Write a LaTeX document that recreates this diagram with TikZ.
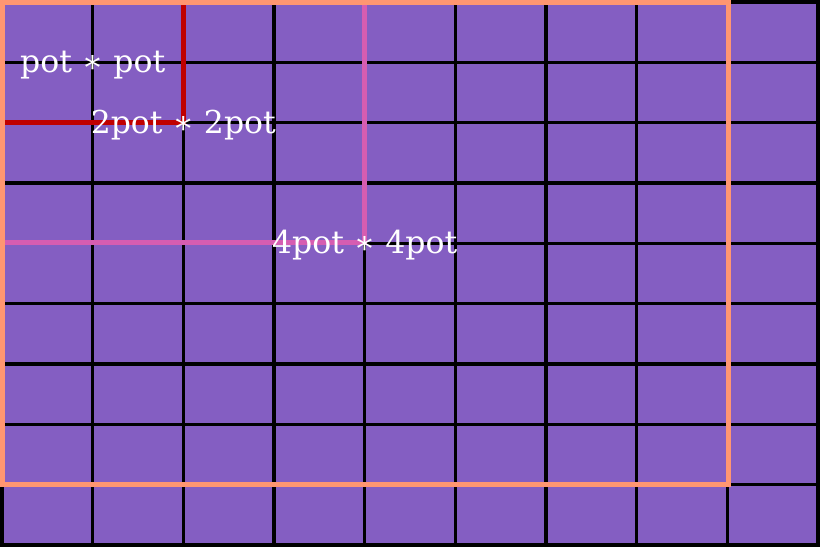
\documentclass[tikz,border=0pt]{standalone}
\usepackage{fontspec}
\setmainfont{DejaVu Serif}
\usetikzlibrary{positioning}

\definecolor{cellpurple}{HTML}{845EC2}
\definecolor{framepeach}{HTML}{FF9671}
\definecolor{potred}{HTML}{C00000}
\definecolor{potpink}{HTML}{D65DB1}

\tikzset{
  gridline/.style={black, line width=3.2pt},
  potlabel/.style={white, font=\fontsize{31.5}{38}\selectfont, inner sep=0pt, anchor=base},
}

\begin{document}
\begin{tikzpicture}[x=1pt, y=-1pt, line cap=rect, line join=miter]
\useasboundingbox (0,0) rectangle (820,547);

\fill[cellpurple] (2,2) rectangle (818,545);
\foreach \i in {0,...,9}{
  \draw[gridline] ({2+\i*90.67},2) -- ({2+\i*90.67},545);
  \draw[gridline] (2,{2+\i*60.33}) -- (818,{2+\i*60.33});
}

% squares of side pot, 2pot, 4pot
\draw[potred, line width=4.5pt] (2,122.7) -- (183.3,122.7) -- (183.3,2);
\draw[potpink, line width=4.5pt] (2,242.7) -- (364.7,242.7) -- (364.7,2);
\draw[framepeach, line width=5pt] (2.5,2.5) rectangle (728.5,484.5);

\node[potlabel] (pot) at (92.7,72.5) {pot ∗ pot};
\node[potlabel] (twopot) at (183.3,133) {2pot ∗ 2pot};
\node[potlabel] (fourpot) at (364.7,253) {4pot ∗ 4pot};

\end{tikzpicture}
\end{document}
